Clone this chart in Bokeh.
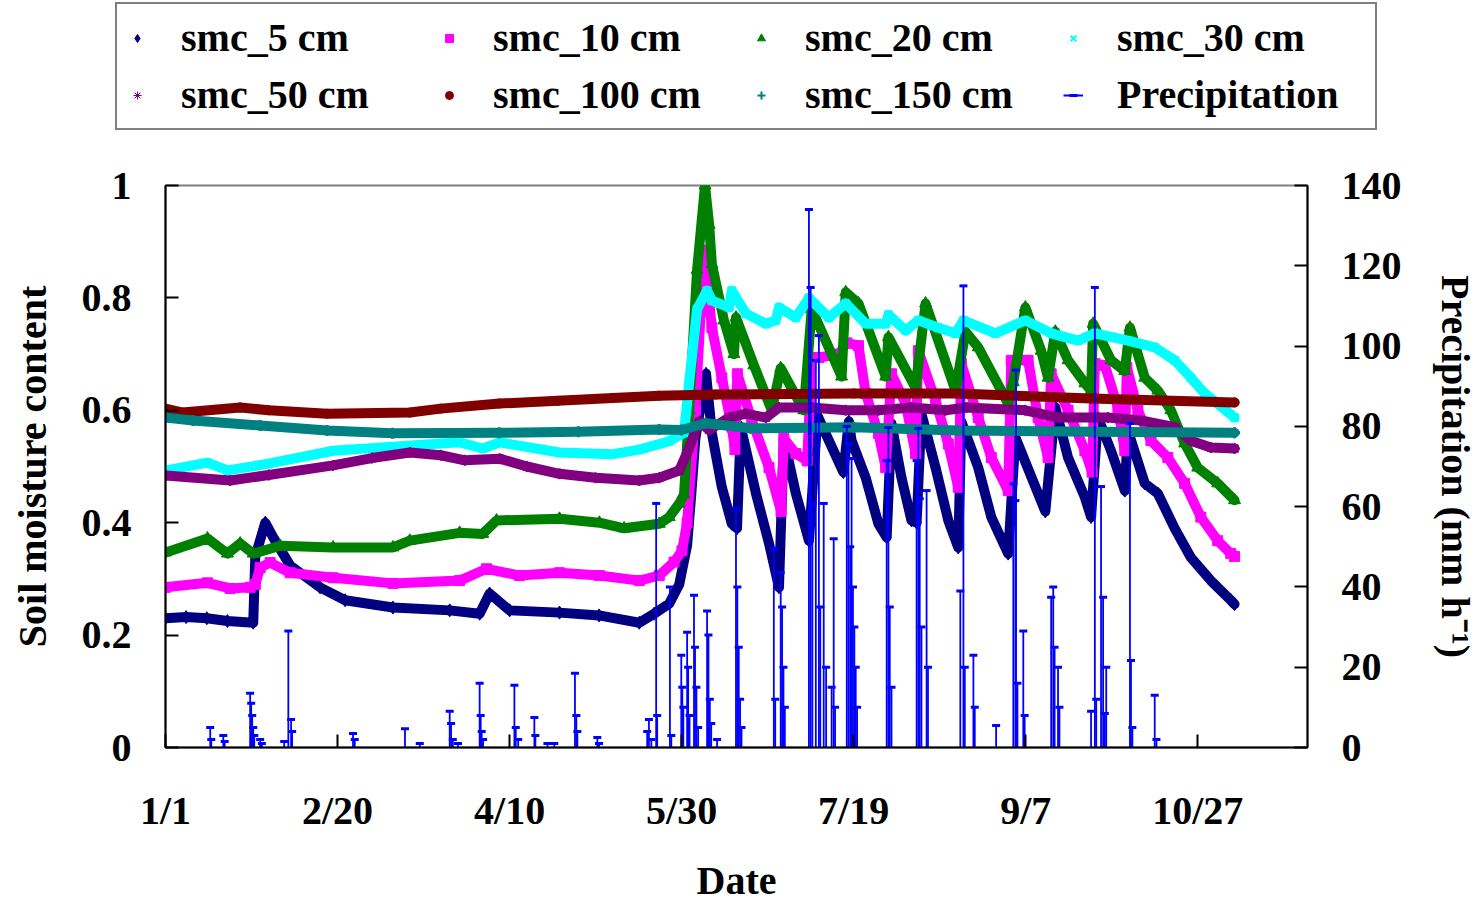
from bokeh.plotting import figure
from bokeh.models import Range1d, LinearAxis, FixedTicker, Legend, LegendItem, ColumnDataSource
from bokeh.embed import file_html
from bokeh.resources import INLINE

FONT = "Liberation Serif"

# ---------------- data (day offset from 1/1) ----------------
x_ticks = [0, 50, 100, 150, 200, 250, 300]
x_tick_labels = ["1/1", "2/20", "4/10", "5/30", "7/19", "9/7", "10/27"]
y_ticks = [0, 0.2, 0.4, 0.6, 0.8, 1.0]
y_tick_labels = ["0", "0.2", "0.4", "0.6", "0.8", "1"]
p_ticks = [0, 20, 40, 60, 80, 100, 120, 140]

smc5_day = [0, 6, 12, 18, 25.5, 26.1, 29.0, 31.3, 36.2, 44.9, 52.2, 66.1, 82.6, 91.3, 94.2, 100, 114.5,
            126, 137.7, 142.0, 146.4, 149.3, 151.6, 152.8, 154.0, 157.1, 158.8, 161.7, 164.6, 166.1,
            167.2, 171.6, 175.4, 178.3, 179.7, 183.2, 187.0, 189.5, 197.0, 198.6, 199.4, 203.5, 207.2,
            209.6, 211.0, 213.9, 216.8, 218.3, 219.7, 223.8, 227.5, 230.4, 231.3, 236.2, 240.0, 244.9,
            247.0, 255.7, 258.6, 262.3, 267.2, 269.0, 271.0, 274.8, 278.8, 279.7, 284.6, 288.4, 293.3,
            298.0, 303.8, 309.6, 310.7]
smc5_val = [0.23, 0.232, 0.23, 0.225, 0.222, 0.34, 0.40, 0.374, 0.324, 0.285, 0.262, 0.249, 0.244, 0.238,
            0.274, 0.244, 0.240, 0.235, 0.222, 0.238, 0.256, 0.29, 0.36, 0.45, 0.55, 0.665, 0.559, 0.463,
            0.398, 0.39, 0.57, 0.452, 0.363, 0.285, 0.55, 0.452, 0.368, 0.59, 0.49, 0.58, 0.546, 0.48,
            0.398, 0.374, 0.576, 0.48, 0.404, 0.40, 0.594, 0.498, 0.404, 0.356, 0.58, 0.498, 0.41, 0.345,
            0.552, 0.42, 0.605, 0.516, 0.445, 0.41, 0.587, 0.528, 0.457, 0.564, 0.47, 0.452, 0.39, 0.338,
            0.297, 0.262, 0.255]

smc10_day = [0, 12.2, 18.8, 24.6, 26.1, 27.5, 30.4, 36.2, 48.7, 66.1, 85.5, 93.3, 102.9, 114.5, 126.1,
             137.7, 143.5, 147.8, 150.1, 151.6, 154.0, 156.5, 158.8, 161.7, 164.6, 165.5, 166.2, 170.4,
             175.4, 178.9, 179.7, 183.2, 186.5, 187.8, 189.9, 195.7, 198.0, 201.4, 203.5, 207.2, 209.3,
             211.0, 215.1, 218.0, 218.8, 223.8, 227.5, 230.4, 231.3, 236.2, 240.0, 244.9, 245.8, 250.7,
             253.6, 256.5, 257.4, 262.3, 267.2, 269.3, 270.1, 273.0, 276.8, 278.8, 279.4, 282.6, 286.4,
             291.3, 296.2, 300.9, 305.8, 309.6, 310.7]
smc10_val = [0.285, 0.293, 0.283, 0.285, 0.29, 0.32, 0.329, 0.311, 0.302, 0.292, 0.297, 0.318, 0.306,
             0.311, 0.306, 0.297, 0.306, 0.33, 0.35, 0.40, 0.60, 0.885, 0.747, 0.658, 0.57, 0.53, 0.665,
             0.582, 0.498, 0.42, 0.55, 0.523, 0.51, 0.694, 0.694, 0.70, 0.72, 0.715, 0.63, 0.559, 0.498,
             0.665, 0.612, 0.523, 0.706, 0.617, 0.54, 0.463, 0.683, 0.587, 0.516, 0.457, 0.689, 0.689,
             0.587, 0.516, 0.665, 0.60, 0.528, 0.49, 0.683, 0.68, 0.605, 0.528, 0.676, 0.60, 0.546, 0.516,
             0.47, 0.41, 0.368, 0.345, 0.34]

smc20_day = [0, 12.2, 18.0, 21.7, 25.5, 33.3, 48.7, 66.1, 71.0, 85.5, 92.2, 96.2, 114.5, 126.1, 133.3,
             143.5, 146.4, 149.3, 150.7, 152.2, 154.5, 156.8, 158.0, 158.8, 162.3, 165.2, 165.8, 171.0,
             176.2, 178.8, 185.5, 187.8, 196.5, 197.7, 201.4, 209.3, 210.1, 218.0, 220.9, 229.6, 232.5,
             236.2, 242.9, 244.9, 246.4, 249.9, 254.5, 256.5, 258.6, 262.3, 267.2, 269.0, 269.6, 274.8,
             278.8, 280.3, 284.6, 288.4, 292.2, 296.2, 300.0, 305.8, 310.7]
smc20_val = [0.347, 0.372, 0.345, 0.363, 0.345, 0.359, 0.356, 0.356, 0.368, 0.382, 0.380, 0.404, 0.407,
             0.40, 0.39, 0.398, 0.41, 0.434, 0.45, 0.60, 0.85, 1.0, 0.93, 0.86, 0.76, 0.70, 0.765, 0.68,
             0.60, 0.675, 0.60, 0.78, 0.66, 0.81, 0.79, 0.66, 0.73, 0.64, 0.79, 0.635, 0.74, 0.712, 0.635,
             0.612, 0.65, 0.783, 0.706, 0.658, 0.74, 0.689, 0.648, 0.635, 0.754, 0.689, 0.67, 0.747, 0.658,
             0.635, 0.60, 0.541, 0.498, 0.47, 0.44]

smc30_day = [0, 12.2, 18.0, 30, 48.7, 66, 85.5, 92.2, 97.1, 114.5, 130, 137.7, 146.4, 150.7, 152.2,
             154.5, 157.4, 158.8, 163.8, 164.6, 168.7, 174.5, 177.4, 178.3, 183.2, 187.0, 192.8, 197.7,
             203.5, 209.3, 210.1, 215.1, 218.8, 224.6, 229.6, 231.9, 241.2, 249.9, 257.4, 265.2, 270.1,
             279.7, 287.5, 293.3, 298.0, 302.0, 305.8, 310.7]
smc30_val = [0.493, 0.507, 0.493, 0.505, 0.528, 0.535, 0.543, 0.532, 0.543, 0.525, 0.522, 0.53, 0.545,
             0.56, 0.65, 0.78, 0.813, 0.795, 0.783, 0.813, 0.772, 0.754, 0.76, 0.783, 0.765, 0.80, 0.765,
             0.79, 0.754, 0.754, 0.77, 0.742, 0.76, 0.747, 0.737, 0.76, 0.737, 0.76, 0.737, 0.724, 0.737,
             0.724, 0.712, 0.689, 0.658, 0.63, 0.612, 0.587]

smc50_day = [0, 18.8, 30, 48.7, 60, 71.0, 80, 87, 97.1, 105, 114.5, 125, 137.7, 143.5, 149.3, 152,
             155.1, 158, 163.8, 168.7, 174.5, 178.3, 187.8, 197.7, 207.2, 216.8, 226.7, 232.8, 249.9,
             259.4, 273.9, 283.5, 293.3, 298.0, 303.8, 310.7]
smc50_val = [0.484, 0.475, 0.485, 0.502, 0.515, 0.525, 0.52, 0.511, 0.514, 0.50, 0.487, 0.48, 0.475,
             0.48, 0.493, 0.53, 0.58, 0.565, 0.587, 0.594, 0.587, 0.605, 0.605, 0.60, 0.60, 0.605, 0.60,
             0.605, 0.60, 0.587, 0.587, 0.582, 0.57, 0.546, 0.534, 0.532]

smc100_day = [0, 5, 21.7, 30, 47, 71, 80, 97, 114, 130, 143.5, 160, 200, 230, 269, 310.7]
smc100_val = [0.603, 0.596, 0.605, 0.600, 0.594, 0.596, 0.603, 0.612, 0.617, 0.622, 0.626, 0.628, 0.63,
              0.63, 0.621, 0.614]

smc150_day = [0, 8, 27.5, 47, 66, 97, 120, 143.5, 150, 157, 170, 200, 230, 270, 310.7]
smc150_val = [0.587, 0.582, 0.573, 0.564, 0.559, 0.56, 0.562, 0.566, 0.565, 0.577, 0.568, 0.57, 0.564,
              0.562, 0.56]

prec_day = [13.0, 13.3, 16.8, 17.2, 24.6, 24.9, 25.2, 25.5, 25.8, 27.5, 28.0, 34.5, 35.7, 36.5, 36.8,
            54.5, 55.0, 69.6, 73.9, 82.6, 83.0, 83.5, 85.0, 91.3, 91.6, 91.9, 92.3, 101.4, 101.8, 102.5,
            107.2, 107.5, 111.0, 113.0, 119.0, 119.4, 119.7, 125.5, 126.0, 140.0, 140.5, 141.2, 142.6,
            142.9, 146.6, 147.0, 149.9, 150.2, 150.5, 151.6, 151.9, 152.3, 153.6, 153.9, 154.3, 154.8,
            157.4, 157.8, 158.2, 158.6, 160.3, 165.8, 166.2, 166.6, 167.0, 167.4, 176.8, 177.2, 178.8,
            179.2, 179.6, 180.0, 187.0, 187.5, 188.0, 189.0, 189.9, 190.3, 191.3, 192.0, 193.6, 194.2,
            194.6, 198.0, 198.5, 199.0, 199.4, 199.8, 200.2, 200.6, 201.0, 209.6, 210.1, 210.5, 211.0,
            218.3, 218.8, 219.2, 219.7, 221.2, 221.6, 231.0, 231.9, 232.3, 234.8, 235.2, 241.4, 246.4,
            247.0, 247.2, 247.6, 249.3, 249.7, 257.4, 258.0, 258.4, 259.4, 259.8, 269.0, 270.1, 270.5,
            271.9, 272.5, 273.0, 273.4, 280.3, 280.6, 281.0, 287.5, 288.0]
prec_mm = [5, 2, 3, 1.5, 13.5, 11, 8, 5, 3, 2, 1, 1.5, 29, 7, 4,
           3.5, 2, 4.7, 1, 9, 6, 2, 1, 16, 8, 4, 2, 15.5, 5, 2,
           7.5, 3, 1, 1, 18.5, 8, 4, 2.5, 1, 4, 7, 2, 60.8,
           8, 40, 3, 23, 15, 10, 28.7, 20, 8, 37.9, 25, 15, 5,
           34, 28, 12, 6, 2, 59.5, 40, 25, 12, 5, 49.6, 12, 43.6,
           35, 20, 10, 134, 114.6, 60.8, 96.4, 102.6, 35, 60.8, 20, 15, 52,
           10, 80, 75.7, 50, 72, 40, 30, 20, 10, 71.5, 79.7, 35, 15,
           71.5, 79.5, 62, 30, 64, 20, 39, 115, 20, 23, 10, 5.5, 65.7,
           61.5, 94, 16, 29, 8, 37.4, 40, 25, 20, 10, 9, 114.6, 12,
           65, 37.4, 8.5, 20, 80.7, 21.7, 5, 13, 2]

series = [
    ("smc_5 cm", smc5_day, smc5_val, "#000080", "diamond", 13, 1),
    ("smc_10 cm", smc10_day, smc10_val, "#FF00FF", "square", 10, 1),
    ("smc_20 cm", smc20_day, smc20_val, "#008000", "triangle", 12, 1),
    ("smc_30 cm", smc30_day, smc30_val, "#00FFFF", "x", 11, 3),
    ("smc_50 cm", smc50_day, smc50_val, "#800080", "asterisk", 11, 2),
    ("smc_100 cm", smc100_day, smc100_val, "#800000", "circle", 9, 1),
    ("smc_150 cm", smc150_day, smc150_val, "#008080", "cross", 11, 3),
]

W = 1480
LEG_H = 138
MAIN_H = 767

# ---------------- main figure ----------------
p = figure(width=W, height=MAIN_H, output_backend="svg", toolbar_location=None,
           x_range=Range1d(0, 331.9), y_range=Range1d(0, 1),
           min_border_left=165, min_border_right=170, min_border_top=185 - LEG_H,
           min_border_bottom=MAIN_H - (747 - LEG_H))
p.extra_y_ranges = {"prec": Range1d(0, 140)}
p.xgrid.visible = False
p.ygrid.visible = False
p.outline_line_color = "#7f7f7f"
p.outline_line_width = 2
p.background_fill_color = "white"
p.border_fill_color = "white"

# legend strip above the chart; its ranges keep the data out of view
lg = figure(width=W, height=LEG_H, output_backend="svg", toolbar_location=None,
            x_range=Range1d(-1000, -999), y_range=Range1d(-1000, -999),
            x_axis_location=None, y_axis_location=None,
            min_border_left=0, min_border_right=0, min_border_top=0, min_border_bottom=0)
lg.xgrid.visible = False
lg.ygrid.visible = False
lg.outline_line_color = None
lg.border_fill_color = "white"

items = []
for name, d, v, col, mk, sz, lw in series:
    src = ColumnDataSource(dict(day=d, val=v))
    p.line("day", "val", source=src, line_color=col, line_width=10, line_join="round", line_cap="round")
    p.scatter("day", "val", source=src, marker=mk, size=sz, fill_color=col, line_color=col, line_width=lw)
    r = lg.scatter("day", "val", source=src, marker=mk, size=9, fill_color=col, line_color=col,
                   line_width=max(1, lw - 1))
    items.append(LegendItem(label=name, renderers=[r]))

psrc = ColumnDataSource(dict(day=prec_day, mm=prec_mm))
p.segment(x0="day", y0=0, x1="day", y1="mm", source=psrc, y_range_name="prec",
          line_color="#0000FF", line_width=1.8)
p.scatter("day", "mm", source=psrc, y_range_name="prec", marker="dash", size=8,
          line_color="#0000FF", line_width=3)
seg_l = lg.segment(x0="day", y0=0, x1="day", y1="mm", source=psrc, line_color="#0000FF", line_width=2)
dash_l = lg.scatter("day", "mm", source=psrc, marker="dash", size=7, line_color="#0000FF", line_width=3)
items.append(LegendItem(label="Precipitation", renderers=[seg_l, dash_l]))

# ---------------- axes ----------------
def style_axis(ax):
    ax.axis_line_color = "black"
    ax.axis_line_width = 2
    ax.major_tick_line_color = "black"
    ax.major_tick_line_width = 2
    ax.major_tick_in = 13
    ax.major_tick_out = 0
    ax.minor_tick_in = 0
    ax.minor_tick_out = 0
    ax.major_label_text_font = FONT
    ax.major_label_text_font_style = "bold"
    ax.major_label_text_font_size = "40px"
    ax.major_label_text_color = "black"
    ax.axis_label_text_font = FONT
    ax.axis_label_text_font_style = "bold"
    ax.axis_label_text_font_size = "40px"
    ax.axis_label_text_color = "black"

xa = p.xaxis[0]
style_axis(xa)
xa.ticker = FixedTicker(ticks=x_ticks)
xa.major_label_overrides = {t: l for t, l in zip(x_ticks, x_tick_labels)}
xa.major_label_standoff = 40
xa.axis_label = "Date"
xa.axis_label_standoff = 22

ya = p.yaxis[0]
style_axis(ya)
ya.ticker = FixedTicker(ticks=y_ticks)
ya.major_label_standoff = 34
ya.major_label_overrides = {t: l for t, l in zip(y_ticks, y_tick_labels)}
ya.axis_label = "Soil moisture content"
ya.axis_label_standoff = 24

ra = LinearAxis(y_range_name="prec")
style_axis(ra)
ra.ticker = FixedTicker(ticks=p_ticks)
ra.major_label_standoff = 34
ra.axis_label = "Precipitation (mm h\u207b\u00b9)"
ra.axis_label_standoff = 28
p.add_layout(ra, "right")

legend = Legend(items=items, location=(115, LEG_H - 130), orientation="horizontal", ncols=4,
                label_text_font=FONT, label_text_font_style="bold", label_text_font_size="40px",
                label_text_color="black",
                glyph_width=20, glyph_height=20, label_standoff=34, label_width=248, label_height=42,
                spacing=10, padding=10, margin=0, border_line_color="black", border_line_width=2,
                background_fill_color="white", background_fill_alpha=1.0)
lg.add_layout(legend, "center")

open("out.html", "w").write(file_html([lg, p], INLINE))
